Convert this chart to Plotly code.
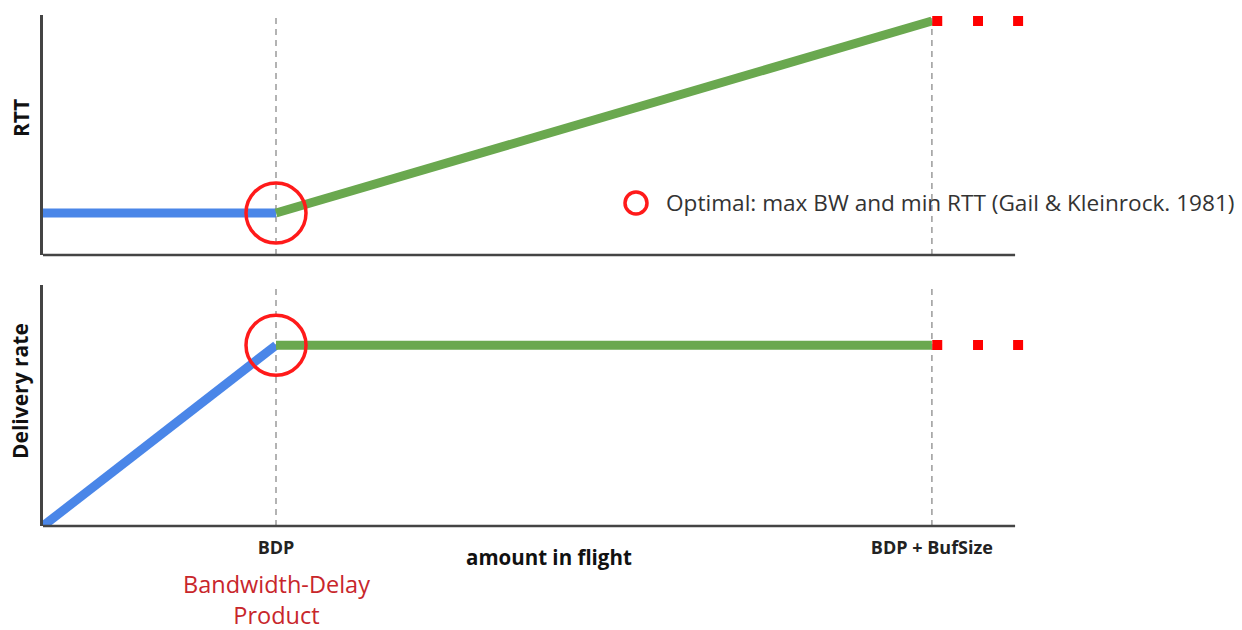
import plotly.graph_objects as go

# ---------------- data ----------------
BDP = 1.0
BDP_BUF = 3.815
AXIS_END = 4.172      # where the drawn x axis stops
X_RANGE_MAX = 4.25    # room for the trailing dots

rtt_blue_x = [0.0, BDP]
rtt_blue_y = [0.175, 0.175]
rtt_green_x = [BDP, BDP_BUF]
rtt_green_y = [0.175, 0.975]

rate_blue_x = [0.0, BDP]
rate_blue_y = [0.0, 0.75]
rate_green_x = [BDP, BDP_BUF]
rate_green_y = [0.75, 0.75]

dots_x = [3.838, 4.013, 4.185]
rtt_dots_y = [0.975, 0.975, 0.975]
rate_dots_y = [0.751, 0.751, 0.751]

opt_rtt = (BDP, 0.175)
opt_rate = (BDP, 0.75)

tick_vals = [BDP, BDP_BUF]
tick_text = ["BDP", "BDP + BufSize"]

legend_text = "Optimal: max BW and min RTT (Gail &amp; Kleinrock. 1981)"

# ---------------- styling ----------------
W, H = 1242, 630
PX_PER_UNIT = 233.0
LEFT_PX = 43.0
BLUE = "#4a86e8"
GREEN = "#6aa84f"
RED = "#ff1a1a"
DARKRED = "#c8262b"
AXIS = "#444444"
FONT = "Open Sans"

def px(x):
    return x / W

def py(y):
    return 1 - y / H

fig = go.Figure()

def line(x, y, color, ax):
    fig.add_trace(go.Scatter(x=x, y=y, mode="lines", line=dict(color=color, width=9),
                             xaxis=ax[0], yaxis=ax[1], showlegend=False, hoverinfo="skip"))

line(rtt_blue_x, rtt_blue_y, BLUE, ("x", "y"))
line(rtt_green_x, rtt_green_y, GREEN, ("x", "y"))
line(rate_blue_x, rate_blue_y, BLUE, ("x2", "y2"))
line(rate_green_x, rate_green_y, GREEN, ("x2", "y2"))

for yy, ax in ((rtt_dots_y, ("x", "y")), (rate_dots_y, ("x2", "y2"))):
    fig.add_trace(go.Scatter(x=dots_x, y=yy, mode="markers", cliponaxis=False,
                             marker=dict(symbol="square", size=10, color="#ff0000"),
                             xaxis=ax[0], yaxis=ax[1], showlegend=False, hoverinfo="skip"))

for pt, ax in ((opt_rtt, ("x", "y")), (opt_rate, ("x2", "y2"))):
    fig.add_trace(go.Scatter(x=[pt[0]], y=[pt[1]], mode="markers", cliponaxis=False,
                             marker=dict(symbol="circle-open", size=60, color=RED,
                                         line=dict(width=3.5, color=RED)),
                             xaxis=ax[0], yaxis=ax[1], showlegend=False, hoverinfo="skip"))

shapes = []
# dashed guides
for xr, yr in (("x", "y domain"), ("x2", "y2 domain")):
    for xv in tick_vals:
        shapes.append(dict(type="line", xref=xr, yref=yr, x0=xv, x1=xv, y0=0, y1=1,
                           line=dict(color="#9a9a9a", width=1.5, dash="6px,5px"), layer="below"))
# x axis lines (stop before the trailing dots)
for xr, yr in (("x", "y domain"), ("x2", "y2 domain")):
    shapes.append(dict(type="line", xref=xr, yref=yr, x0=0, x1=AXIS_END, y0=0, y1=0,
                       line=dict(color=AXIS, width=2.5)))

# legend-like symbol
shapes.append(dict(type="circle", xref="paper", yref="paper", xsizemode="pixel", ysizemode="pixel",
                   xanchor=px(636), yanchor=py(203), x0=-11, x1=11, y0=-11, y1=11,
                   line=dict(color=RED, width=3.5)))

xdom = [px(LEFT_PX), px(LEFT_PX + X_RANGE_MAX * PX_PER_UNIT)]
xaxis_common = dict(showline=False, showgrid=False, zeroline=False, ticks="", fixedrange=True)
yaxis_common = dict(showline=True, linecolor=AXIS, linewidth=2.5, showgrid=False,
                    zeroline=False, ticks="", fixedrange=True, showticklabels=False)

def ann(text, x, y, size, color="#111111", angle=0, xanchor="center", xref="paper"):
    return dict(text=text, x=x, y=y, xref=xref, yref="paper", textangle=angle,
                xanchor=xanchor, yanchor="middle", showarrow=False,
                font=dict(size=size, color=color), align="center")

fig.update_layout(
    width=W, height=H, autosize=False,
    margin=dict(l=0, r=0, t=0, b=0, pad=0),
    paper_bgcolor="white", plot_bgcolor="white",
    font=dict(family=FONT, color="#222222"),
    showlegend=False,
    xaxis=dict(domain=xdom, range=[0, X_RANGE_MAX], anchor="y", showticklabels=False, **xaxis_common),
    yaxis=dict(domain=[py(255), py(15)], range=[0, 1], anchor="x", **yaxis_common),
    xaxis2=dict(domain=xdom, range=[0, X_RANGE_MAX], anchor="y2", tickvals=tick_vals,
                ticktext=["<b>%s</b>" % t for t in tick_text], tickfont=dict(size=18, color="#222222"),
                ticklabelstandoff=9, **xaxis_common),
    yaxis2=dict(domain=[py(526), py(285)], range=[0, 1], anchor="x2", **yaxis_common),
    shapes=shapes,
    annotations=[
        ann("<b>RTT</b>", px(21), py(118), 21, angle=-90),
        ann("<b>Delivery rate</b>", px(20), py(391), 21, angle=-90),
        ann("<b>amount in flight</b>", px(549), py(557), 20.5),
        ann("Bandwidth-Delay<br>Product", BDP, py(599), 23.5, color=DARKRED, xref="x2"),
        ann(legend_text, px(664), py(203), 22.6, color="#333333", xanchor="left"),
    ],
)

fig.write_html("out.html", config={"displayModeBar": False},
               post_script="document.body.style.margin='0';document.body.style.padding='0';")
